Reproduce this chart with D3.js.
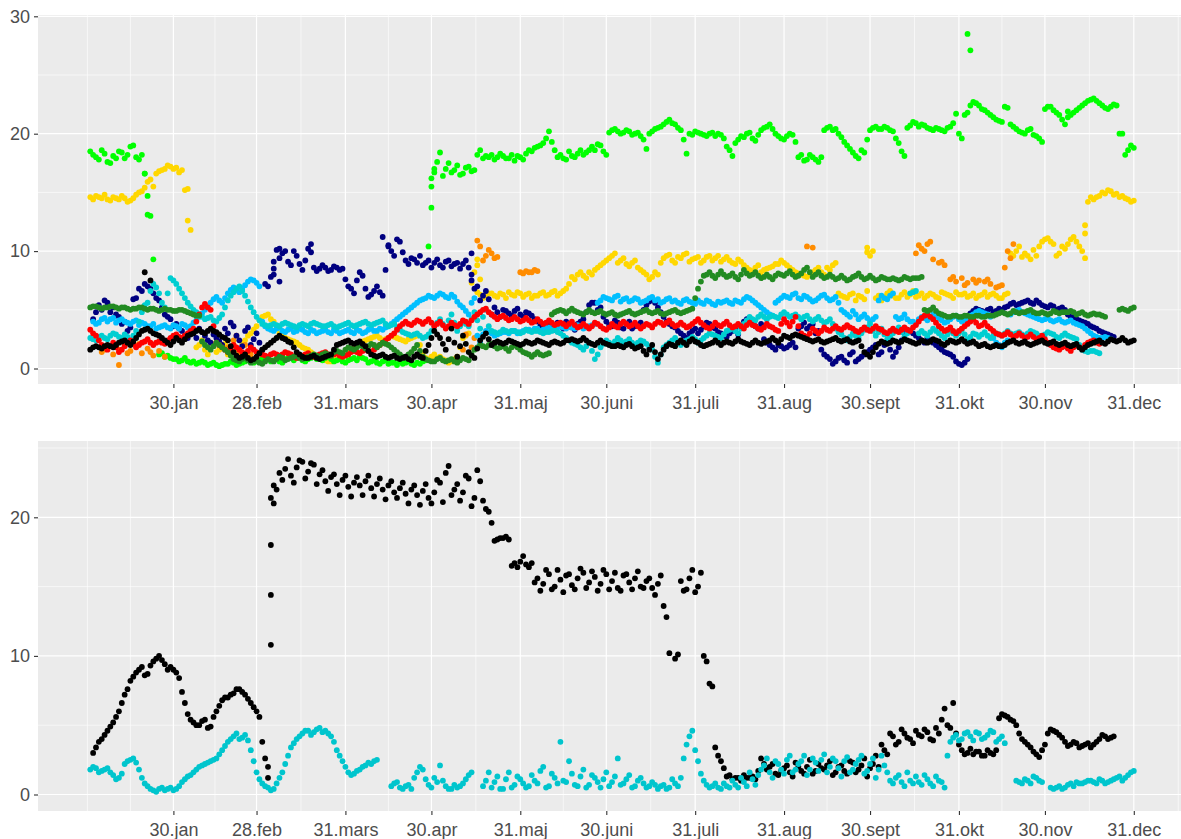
<!DOCTYPE html>
<html>
<head>
<meta charset="utf-8">
<script src="https://cdn.jsdelivr.net/npm/d3@7"></script>
<style>
  body { margin: 0; background: #ffffff; }
  svg { display: block; }
</style>
</head>
<body>
<svg id="chart" width="1181" height="839"></svg>
<script>
// ---- calendar -------------------------------------------------------------
const YEAR = 2019;
// "A" arrays: one reading on every odd day (1, 3, 5 ...);
// "B" arrays: one reading on every even day (2, 4, 6 ...)
const STEP_DAYS = 2;

const tickLabels = ["30.jan", "28.feb", "31.mars", "30.apr", "31.maj", "30.juni",
                    "31.juli", "31.aug", "30.sept", "31.okt", "30.nov", "31.dec"];
const tickDays = [30, 59, 90, 120, 151, 181, 212, 243, 273, 304, 334, 365];

// ---- upper panel ------------------------------------------------------------
const limeA = [
  18.5, 18.0, 18.6, 17.6, 18.1, 18.5, 17.9, 18.9, 18.0, 18.2,
  13.1, 9.3, 1.2, 1.0, 0.9, 0.8, 0.7, 0.6, 0.6, 0.5,
  0.5, 0.4, 0.3, 0.3, 0.4, 0.5, 0.4, 0.6, 0.7, 0.6,
  0.8, 0.9, 0.7, 0.6, 0.8, 1.0, 0.9, 0.7, 0.8, 1.0,
  1.1, 0.9, 0.8, 0.7, 0.6, 0.7, 0.9, 1.0, 0.8, 0.6,
  0.5, 0.6, 0.4, 0.5, 0.6, 0.5, 0.4, 0.5, 0.6, 10.4,
  17.0, 18.4, 17.0, 16.7, 17.3, 16.6, 17.2, 16.9, 18.6, 18.1,
  18.2, 18.0, 18.1, 17.9, 17.7, 18.0, 18.3, 18.5, 18.9, 19.2,
  20.2, 18.6, 18.2, 17.8, 18.1, 18.3, 18.2, 18.6, 18.6, 19.0,
  18.2, 20.3, 20.2, 20.1, 20.2, 20.0, 19.8, 18.7, 20.2, 20.5,
  20.8, 21.2, 20.8, 20.3, 18.3, 19.9, 20.1, 19.9, 20.0, 19.8,
  19.9, 18.9, 18.1, 19.5, 19.7, 20.1, 19.4, 20.3, 20.6, 20.4,
  19.8, 19.5, 20.0, 19.3, 18.2, 17.8, 18.0, 17.6, 20.3, 20.6,
  20.4, 19.7, 19.0, 18.4, 17.9, 18.4, 20.3, 20.6, 20.4, 20.5,
  20.2, 19.2, 18.1, 20.7, 20.9, 20.8, 20.5, 20.3, 20.4, 20.2,
  20.6, 21.7, 19.6, 21.8, 22.7, 22.4, 22.0, 21.6, 21.2, 21.0,
  22.2, 20.6, 20.2, 20.0, 20.4, 19.8, 19.3, 22.3, 22.0, 21.6,
  20.8, 21.6, 22.0, 22.4, 22.8, 23.0, 22.6, 22.2, 22.3, 22.4,
  20.0, 18.6, 18.8
];
const limeB = [
  18.2, 17.8, 18.3, 17.5, 17.9, 18.4, 18.2, 19.0, 17.8, 16.6,
  13.0, null, 1.3, 1.1, 0.8, 0.6, 0.9, 0.5, 0.4, 0.6,
  0.3, 0.5, 0.2, 0.4, 0.6, 0.3, 0.5, 0.8, 0.5, 0.7,
  1.0, 0.6, 0.8, 0.5, 0.9, 0.7, 1.1, 0.6, 0.9, 0.8,
  0.7, 1.0, 0.6, 0.8, 0.5, 0.8, 0.7, 0.9, 0.5, 0.7,
  0.4, 0.7, 0.5, 0.3, 0.4, 0.6, 0.3, 0.4, 0.7, 16.2,
  17.6, 16.4, 17.5, 16.9, 16.5, 17.1, 16.8, 18.2, 17.9, 18.0,
  17.8, 18.3, 17.9, 18.2, 18.1, 17.8, 18.6, 18.8, 19.0, 19.6,
  19.3, 18.0, 17.9, 18.5, 18.0, 18.6, 18.4, 18.9, 19.1, 18.5,
  20.1, 20.4, 20.0, 20.3, 19.9, 20.1, 19.5, 20.0, 20.4, 20.6,
  21.0, 20.9, 20.5, 19.5, 20.0, 20.2, 20.0, 19.8, 20.1, 20.0,
  19.6, 18.6, 19.2, 19.8, 20.0, 19.6, 19.9, 20.5, 20.8, 20.0,
  19.6, 19.8, 19.9, 18.0, 17.7, 18.2, 17.8, 18.0, 20.5, 20.3,
  20.0, 19.3, 18.7, 18.1, 18.6, 19.5, 20.5, 20.4, 20.6, 20.3,
  19.6, 18.5, 20.5, 21.0, 20.6, 20.7, 20.4, 20.5, 20.3, 20.5,
  20.9, 20.0, 21.6, 22.4, 22.6, 22.1, 21.8, 21.4, 21.1, 22.3,
  20.8, 20.4, 20.1, 20.3, 19.9, 19.6, 22.1, 22.3, 21.8, 21.2,
  21.4, 21.8, 22.2, 22.6, 22.9, 22.8, 22.4, 22.1, 22.5, 20.0,
  18.2, 19.0
];
const limeExtra = [[20, 16.6], [21, 14.7], [120, 13.7], [120, 15.5], [121, 16.7], [307, 28.5], [308, 27.1], [342, 21.9]];

const goldA = [
  14.6, 14.7, 14.5, 14.4, 14.6, 14.4, 14.5, 14.3, 14.8, 15.1,
  15.9, 15.5, 16.8, 17.0, 17.2, 17.1, 16.9, 15.3, null, 2.0,
  1.6, 2.2, 1.4, 1.8, 1.2, 2.0, 1.5, 2.4, 3.0, 3.6,
  4.4, 4.6, 4.0, 3.0, 2.6, 2.4, 2.2, 1.8, 1.6, 1.2,
  1.0, 0.7, 0.6, 0.8, 1.0, 1.3, 1.8, 2.2, 2.4, 2.6,
  2.8, 2.4, 2.6, 2.7, 2.5, 2.3, 2.6, 2.8, 1.3, 0.8,
  1.2, 1.0, 0.7, 0.6, 1.0, 2.6, 3.0, 8.2, 6.3, 6.2,
  6.4, 6.1, 6.3, 6.5, 6.2, 6.4, 6.3, 6.0, 6.2, 6.5,
  6.3, 6.6, 6.4, 6.8, 7.8, 8.0, 7.9, 8.2, 8.4, 8.8,
  9.2, 9.6, 9.0, 9.4, 8.7, 9.2, 8.4, 8.0, 7.8, 8.0,
  9.4, 9.7, 9.0, 9.4, 9.8, 9.3, 9.5, 9.2, 9.6, 9.4,
  9.1, 9.5, 9.0, 9.3, 8.8, 8.4, 8.6, 8.2, 8.5, 8.7,
  8.9, 9.0, 8.6, 8.2, 8.0, 7.8, 8.2, 8.6, 8.0, 8.4,
  9.0, 6.2, 6.0, 6.4, 6.2, 5.9, 9.6, 6.0, 5.8, 6.4,
  6.2, 6.0, 6.5, 6.3, 6.1, 6.4, 6.2, 6.3, 6.0, 6.4,
  6.2, 6.5, 6.3, 6.1, 6.4, 6.2, 6.5, 6.3, 6.2, 6.0,
  6.4, 9.6, 10.4, 9.8, 9.3, 9.6, 10.8, 11.1, 10.6, 9.8,
  10.2, 11.0, 10.8, 10.0, 14.2, 14.4, 14.7, 14.9, 15.1, 14.9,
  14.7, 14.4, 14.3
];
const goldB = [
  14.4, 14.6, 14.8, 14.3, 14.5, 14.7, 14.2, 14.5, 15.0, 15.4,
  16.1, 16.6, 16.9, 17.3, 17.0, 16.7, 15.2, null, 1.8, 2.4,
  1.2, 1.9, 1.6, 2.1, 1.4, 1.7, 2.2, 2.8, 3.3, 4.1,
  4.5, 4.2, 3.4, 2.8, 2.5, 2.3, 2.0, 1.7, 1.4, 1.1,
  0.8, 0.6, 0.7, 0.9, 1.1, 1.5, 2.0, 2.3, 2.5, 2.7,
  2.6, 2.5, 2.8, 2.6, 2.4, 2.5, 2.7, 2.0, 0.9, 1.0,
  0.9, 0.8, 0.5, 0.8, 1.8, 2.8, 7.3, 6.5, 6.0, 6.4,
  6.2, 6.4, 6.0, 6.3, 6.5, 6.1, 6.4, 6.2, 6.4, 6.2,
  6.5, 6.2, 6.6, 7.2, 7.6, 8.2, 7.7, 8.0, 8.6, 9.0,
  9.4, 9.8, 9.2, 8.9, 9.0, 8.6, 8.2, 7.6, 8.2, 9.0,
  9.6, 9.2, 9.5, 9.7, 9.1, 9.4, 9.0, 9.5, 9.2, 9.6,
  9.3, 9.2, 8.9, 9.1, 8.6, 8.3, 8.8, 8.4, 8.6, 8.9,
  9.2, 8.8, 8.4, 8.1, 7.9, 8.0, 8.4, 8.2, 8.6, 8.8,
  6.4, 6.1, 6.3, 5.8, 6.1, 6.6, 10.0, 6.2, 6.1, 6.6,
  6.0, 6.3, 6.1, 6.6, 6.2, 6.0, 6.4, 6.1, 6.5, 6.3,
  6.0, 6.3, 6.4, 6.2, 6.0, 6.3, 6.1, 6.4, 6.0, 6.3,
  9.8, 10.0, 9.5, 9.6, 10.1, 10.4, 11.0, 10.8, 9.6, 10.4,
  10.6, 11.2, 10.4, 9.4, 14.6, 14.6, 15.0, 15.2, 14.8, 14.6,
  14.5, 14.2
];
const goldExtra = [[35, 12.6], [36, 11.8], [136, 9.3], [136, 8.8], [137, 7.6], [272, 10.3], [272, 9.9], [348, 12.2], [348, 11.5]];

// sparse series: [day of year, value]
const orange = [
  [5, 1.4], [7, 1.8], [9, 1.2], [11, 1.6], [11, 0.3], [13, 2.0], [15, 1.5], [17, 1.9], [19, 1.3],
  [21, 1.7], [23, 1.1], [25, 1.5], [27, 1.0], [6, 1.6], [10, 1.9], [14, 1.3], [18, 2.1], [22, 1.4],
  [49, 1.8], [51, 2.4], [53, 1.4], [55, 2.0], [57, 1.2], [52, 2.8], [54, 1.1],
  [131, 1.6], [133, 3.8], [135, 2.6], [132, 2.9], [134, 1.8],
  [136, 10.9], [137, 10.4], [138, 9.2], [139, 9.6], [141, 9.8], [143, 9.5], [140, 10.1], [142, 9.4],
  [151, 8.2], [153, 8.3], [155, 8.2], [157, 8.3], [152, 8.1], [154, 8.2], [156, 8.4],
  [251, 10.4], [253, 10.3],
  [289, 9.8], [291, 10.2], [293, 10.6], [295, 9.3], [297, 9.0], [299, 8.8], [301, 7.6], [303, 7.4],
  [305, 7.7], [307, 7.3], [309, 7.6], [311, 7.5], [313, 7.4], [315, 7.2], [317, 6.9], [319, 7.1],
  [290, 10.5], [292, 10.0], [294, 10.8], [298, 9.1], [302, 7.8], [306, 7.1], [310, 7.3], [314, 7.6], [318, 7.0],
  [321, 10.0], [323, 10.6], [320, 8.6], [322, 9.4]
];

const navyA = [
  null, 4.8, 5.0, 5.6, 5.2, 4.4, 4.0, 3.5, 6.0, 6.6,
  7.0, 6.4, 5.8, 4.6, 4.2, 3.8, 3.2, 2.6, 3.0, 3.4,
  2.8, 2.2, 2.6, 2.0, 3.0, 3.6, 2.4, 3.2, 2.0, 3.0,
  1.6, 7.0, 8.5, 9.4, 10.0, 8.8, 9.6, 8.4, 10.2, 8.6,
  8.5, 8.6, 8.4, 8.6, 8.5, 7.0, 6.4, 8.2, 6.8, 6.3,
  7.0, 6.2, 10.4, 9.6, 10.8, 9.2, 9.4, 9.0, 8.8, 9.2,
  9.0, 8.8, 9.1, 8.7, 9.0, 8.9, 8.6, 6.8, 5.8, 6.6,
  4.6, 4.8, 5.0, 4.7, 4.9, 4.6, 4.8, 4.5, 4.0, 3.4,
  3.8, 3.3, 3.6, 4.0, 3.5, 3.8, 4.2, 5.4, 5.6, 5.2,
  4.0, 3.6, 3.9, 3.4, 4.0, 3.6, 3.9, 5.4, 5.9, 5.2,
  4.4, 3.8, 3.5, 3.0, 2.6, 3.2, 3.0, 3.6, 3.8, 3.4,
  3.0, 2.7, 3.2, 2.9, 4.0, 4.3, 3.6, 3.8, 2.2, 1.8,
  2.0, 1.7, 2.0, 1.8, 3.6, 3.4, 3.8, 3.2, 1.2, 0.8,
  0.6, 1.0, 0.5, 1.4, 0.8, 1.2, 1.6, 2.0, 1.4, 2.2,
  1.0, 1.8, 3.0, 3.2, 2.8, 2.4, 2.6, 2.2, 1.8, 1.4,
  1.2, 0.6, 0.3, 0.8, 4.9, 5.0, 4.8, 5.1, 4.9, 5.0,
  5.3, 5.6, 5.5, 5.7, 5.6, 5.8, 5.4, 5.2, 5.3, 5.1,
  5.0, 4.4, 4.2, 4.0, 3.8, 3.5, 3.2, 3.0, 2.8, null,
  null, null, null
];
const navyB = [
  4.2, 5.4, 5.8, 4.8, 4.6, 3.8, 3.2, 5.9, 6.8, 7.2,
  6.8, 6.0, 5.2, 4.4, 3.6, 3.4, 2.8, 3.3, 2.6, 3.1,
  2.4, 2.9, 2.3, 3.4, 3.9, 2.8, 1.9, 3.5, 2.5, 2.2,
  7.2, 7.8, 10.1, 9.8, 9.1, 10.0, 8.9, 9.2, 9.9, 8.3,
  8.8, 8.3, 8.7, 8.4, 7.6, 6.8, 7.5, 7.9, 6.1, 6.6,
  6.5, 8.4, 10.0, 11.0, 9.9, 8.9, 9.3, 9.6, 9.0, 8.6,
  9.3, 8.6, 9.2, 8.9, 8.5, 9.2, 8.0, 7.0, 6.2, 5.9,
  5.2, 4.4, 4.9, 4.5, 5.1, 4.4, 4.7, 4.2, 3.6, 3.8,
  3.4, 3.9, 3.4, 3.8, 3.3, 4.0, 4.8, 5.6, 5.0, 4.4,
  3.7, 4.1, 3.5, 3.8, 3.4, 3.7, 5.0, 5.7, 5.6, 4.8,
  4.0, 3.6, 3.2, 2.8, 3.0, 3.4, 3.3, 3.9, 3.5, 3.1,
  2.8, 3.0, 3.3, 3.6, 4.2, 3.9, 3.4, 2.5, 2.0, 1.6,
  1.9, 1.8, 2.2, 3.4, 3.9, 3.6, 3.0, 1.6, 1.0, 0.4,
  0.9, 0.7, 1.2, 0.6, 1.0, 1.4, 1.8, 1.2, 2.0, 1.6,
  1.4, 2.4, 3.3, 3.0, 2.6, 2.2, 2.4, 2.0, 1.6, 1.3,
  1.0, 0.4, 0.5, 4.7, 5.1, 4.9, 5.0, 4.8, 5.1, 5.2,
  5.5, 5.4, 5.6, 5.8, 5.5, 5.6, 5.3, 5.4, 5.0, 5.2,
  4.6, 4.3, 4.1, 3.9, 3.6, 3.4, 3.1, 2.9, 2.7, null,
  null, null
];
const navyExtra = [[65, 8.0], [65, 9.1], [67, 10.2], [67, 7.4], [78, 10.6], [103, 11.2], [105, 10.5], [134, 9.8], [134, 7.5]];

const deepSkyA = [
  null, 3.8, 4.2, 4.0, 4.3, 4.1, 4.0, 3.8, 4.1, 3.9,
  3.6, 3.8, 3.5, 3.7, 3.4, 3.6, 3.8, 3.5, 3.9, 4.4,
  5.0, 5.6, 6.1, 5.6, 6.4, 6.9, 6.5, 7.1, 7.6, 7.3,
  4.0, 3.4, 3.2, 3.5, 3.1, 3.4, 3.2, 3.3, 3.0, 3.2,
  3.1, 3.3, 3.0, 3.2, 3.1, 3.3, 3.0, 3.2, 3.1, 3.4,
  3.2, 3.3, 3.6, 4.0, 4.4, 4.8, 5.2, 5.6, 5.9, 6.2,
  6.0, 6.4, 6.1, 6.3, 5.7, 5.2, 4.6, 6.0, 2.2, 3.2,
  3.0, 2.9, 3.1, 3.0, 3.2, 3.1, 3.3, 3.2, 3.4, 3.3,
  3.5, 3.4, 3.6, 3.4, 3.5, 3.7, 3.4, 3.6, 3.8, 5.8,
  6.0, 5.8, 6.2, 5.9, 5.7, 6.0, 5.6, 5.8, 6.1, 5.9,
  5.7, 6.0, 5.8, 5.5, 5.9, 5.6, 5.8, 5.5, 5.7, 5.4,
  5.6, 5.8, 5.5, 5.7, 5.9, 6.0, 5.6, 5.2, 4.8, 4.5,
  5.8, 6.2, 6.0, 6.4, 5.9, 6.1, 5.7, 6.0, 6.3, 5.8,
  6.1, 5.0, 4.6, 4.9, 4.2, 4.6, 4.0, 4.4, 6.2, 5.9,
  6.4, 4.2, 4.6, 4.0, 3.8, 4.4, 4.1, 4.6, 4.3, 3.9,
  4.2, 4.5, 4.0, 4.3, 4.6, 4.9, 4.7, 4.4, 2.2, 1.8,
  2.4, 4.8, 5.0, 4.7, 4.5, 4.3, 4.1, 4.3, 4.0, 4.2,
  3.9, 4.1, 3.8, 3.6, 3.2, 2.8, 2.6, 2.7, 2.5, null,
  null, null, null
];
const deepSkyB = [
  4.0, 3.9, 4.3, 4.2, 3.9, 4.2, 3.9, 4.0, 3.7, 3.8,
  3.6, 3.4, 3.6, 3.5, 3.7, 3.4, 3.7, 3.6, 4.1, 4.7,
  5.3, 5.9, 5.8, 6.0, 6.7, 6.7, 6.8, 7.4, 7.5, 7.0,
  3.6, 3.3, 3.4, 3.2, 3.3, 3.1, 3.4, 3.1, 3.3, 3.0,
  3.2, 3.1, 3.3, 3.0, 3.2, 3.1, 3.3, 3.0, 3.3, 3.2,
  3.4, 3.5, 3.8, 4.2, 4.6, 5.0, 5.4, 5.8, 6.0, 6.1,
  6.2, 6.3, 6.0, 6.1, 5.4, 4.9, 5.6, 2.8, 2.9, 3.1,
  2.8, 3.0, 3.1, 3.2, 3.0, 3.2, 3.3, 3.4, 3.2, 3.5,
  3.3, 3.5, 3.5, 3.6, 3.4, 3.6, 3.5, 3.7, 5.6, 6.1,
  5.9, 6.1, 5.7, 6.0, 5.8, 5.9, 5.7, 6.0, 5.8, 5.6,
  5.9, 5.7, 5.6, 5.8, 5.7, 5.5, 5.6, 5.8, 5.5, 5.7,
  5.7, 5.6, 5.8, 5.6, 6.1, 5.8, 5.4, 5.0, 4.6, 5.6,
  6.0, 6.1, 6.3, 6.0, 6.2, 5.9, 5.8, 6.2, 6.0, 5.9,
  5.6, 4.8, 4.4, 4.6, 4.4, 4.3, 4.2, 5.8, 6.0, 6.2,
  4.4, 4.3, 4.2, 4.0, 4.2, 4.3, 4.4, 4.5, 4.1, 4.0,
  4.4, 4.2, 4.1, 4.5, 4.8, 4.8, 4.6, 2.6, 2.0, 2.2,
  4.6, 4.9, 4.8, 4.6, 4.4, 4.2, 4.2, 4.1, 4.1, 4.0,
  4.0, 3.9, 3.7, 3.4, 3.0, 2.7, 2.6, 2.6, null, null,
  null, null
];

const turquoiseA = [
  2.6, 2.4, 2.8, 2.5, 3.0, 2.7, 2.9, 2.4, 3.2, 4.8,
  5.6, 7.2, 6.4, 5.2, 7.7, 7.2, 6.4, 5.6, 5.0, 4.6,
  4.2, 4.4, 4.0, 4.6, 5.8, 6.5, 7.0, 6.2, 5.2, 4.4,
  3.8, 3.6, 3.8, 3.6, 3.9, 3.7, 3.5, 3.8, 3.6, 3.9,
  3.7, 3.6, 3.8, 3.5, 3.7, 3.9, 3.6, 3.8, 4.0, 3.7,
  3.9, 4.1, 3.6, 3.8, 3.3, 3.0, 2.8, 3.0, 2.6, 2.9,
  3.6, 4.2, 3.5, 4.6, 3.2, 4.0, 3.6, 4.8, 3.4, 5.0,
  3.2, 3.0, 3.3, 3.1, 3.2, 3.0, 3.3, 3.1, 3.2, 3.0,
  3.1, 3.3, 3.0, 2.6, 2.2, 2.0, 1.6, 2.2, 0.8, 1.8,
  2.4, 2.0, 2.6, 2.2, 2.5, 2.0, 2.4, 2.1, 1.6, 0.5,
  1.8, 2.2, 2.6, 2.0, 2.4, 2.7, 2.2, 2.6, 3.0, 2.8,
  2.6, 3.2, 3.4, 3.0, 3.8, 4.4, 4.1, 4.6, 4.2, 4.5,
  4.3, 4.8, 4.4, 4.6, 4.2, 4.5, 4.0, 4.4, 3.9, 4.2,
  3.4, 2.9, 2.4, 3.0, 2.6, 3.3, 3.8, 2.8, 3.4, 2.5,
  3.0, 3.5, 2.7, 6.4, 6.6, 3.2, 2.8, 3.4, 3.0, 2.6,
  3.2, 2.8, 3.3, 2.5, 3.0, 2.7, 3.1, 2.6, 3.0, 2.8,
  3.2, 2.9, 3.1, 2.8, 3.2, 3.0, 2.7, 3.1, 2.9, 2.6,
  3.0, 2.7, 2.5, 1.6, 1.4, 1.5, 1.3, null, null, null,
  null, null, null
];
const turquoiseB = [
  2.5, 2.7, 2.6, 2.8, 2.9, 2.6, 2.7, 2.8, 4.0, 5.4,
  6.6, 6.9, 5.6, 6.4, 7.5, 6.8, 6.0, 5.3, 4.8, 4.4,
  4.3, 4.1, 4.3, 5.2, 6.2, 6.8, 6.6, 5.7, 4.8, 4.1,
  3.7, 3.7, 3.7, 3.8, 3.8, 3.6, 3.7, 3.7, 3.8, 3.8,
  3.6, 3.7, 3.6, 3.6, 3.8, 3.7, 3.7, 3.9, 3.8, 3.8,
  4.0, 3.8, 3.7, 3.5, 3.1, 2.9, 2.9, 2.8, 2.7, 3.2,
  3.9, 3.8, 4.1, 3.9, 3.6, 3.8, 4.2, 4.1, 4.4, 3.6,
  3.1, 3.1, 3.2, 3.2, 3.1, 3.1, 3.2, 3.2, 3.1, 3.1,
  3.2, 3.1, 2.8, 2.4, 2.1, 1.8, 1.9, 1.5, 1.2, 2.1,
  2.2, 2.3, 2.4, 2.3, 2.2, 2.2, 2.3, 1.8, 1.0, 1.2,
  2.0, 2.4, 2.3, 2.2, 2.5, 2.5, 2.4, 2.8, 2.9, 2.7,
  2.9, 3.3, 3.2, 3.4, 4.1, 4.2, 4.4, 4.4, 4.4, 4.4,
  4.6, 4.6, 4.5, 4.4, 4.4, 4.2, 4.2, 4.1, 4.0, 3.8,
  3.1, 2.6, 2.7, 2.8, 3.0, 3.5, 3.2, 3.1, 2.9, 2.7,
  3.2, 3.1, 3.0, 6.5, 3.0, 3.0, 3.1, 3.2, 2.8, 2.9,
  3.0, 3.0, 2.9, 2.7, 2.9, 2.9, 2.8, 2.8, 2.9, 3.0,
  3.0, 3.0, 2.9, 3.0, 3.1, 2.8, 2.9, 3.0, 2.7, 2.8,
  2.8, 2.6, 2.0, 1.5, 1.5, 1.4, null, null, null, null,
  null, null
];

const forestA = [
  5.2, 5.3, 5.1, 5.2, 5.3, 5.1, 5.2, 5.0, 5.1, 5.2,
  5.0, 5.1, 4.9, 5.1, 5.0, 4.9, 5.0, 4.8, 4.6, 4.5,
  2.0, 1.6, 2.2, 1.8, 1.4, 0.8, 0.6, 0.9, 0.5, 0.7,
  0.4, 0.8, 0.6, 1.0, 0.7, 0.9, 1.1, 0.8, 1.0, 1.2,
  1.0, 1.3, 1.1, 1.5, 1.3, 1.8, 1.6, 2.0, 1.7, 2.1,
  1.8, 2.2, 2.0, 1.6, 1.2, 0.9, 1.4, 2.0, 1.0, 0.7,
  0.6, 0.9, 0.6, 0.8, 0.5, 0.9, 0.7, 1.6, 2.0, 1.8,
  2.1, 1.7, 1.9, 1.5, 2.0, 1.6, 1.3, 1.0, 1.4, 1.1,
  1.3, 4.8, 5.0, 4.7, 5.1, 4.8, 4.6, 5.0, 4.7, 4.9,
  4.6, 4.8, 4.5, 4.7, 4.9, 4.6, 4.8, 5.0, 4.7, 4.9,
  4.6, 4.8, 5.0, 4.7, 4.9, 5.1, 6.8, 7.9, 8.2, 7.7,
  8.3, 7.8, 8.1, 7.6, 8.4, 7.9, 8.2, 7.7, 8.0, 7.6,
  8.1, 7.9, 8.3, 7.8, 8.1, 8.6, 7.8, 8.2, 7.7, 8.0,
  7.6, 7.9, 7.5, 7.8, 8.1, 7.6, 7.9, 7.5, 7.8, 7.6,
  7.7, 7.5, 7.8, 7.6, 7.7, 7.8, 4.9, 5.2, 4.7, 4.5,
  4.4, 4.5, 4.4, 4.5, 4.4, 4.5, 4.4, 4.5, 4.6, 4.8,
  4.6, 4.9, 4.7, 4.8, 5.0, 4.7, 4.8, 4.6, 4.9, 4.7,
  4.8, 4.9, 4.6, 4.8, 4.5, 4.7, 4.6, 4.4, null, null,
  5.1, 4.9, 5.2
];
const forestB = [
  5.3, 5.2, 5.2, 5.3, 5.2, 5.2, 5.1, 5.1, 5.2, 5.1,
  5.1, 5.0, 5.0, 5.0, 4.9, 5.0, 4.9, 4.7, 4.5, 2.3,
  1.8, 1.9, 2.0, 1.6, 1.1, 0.7, 0.8, 0.7, 0.6, 0.5,
  0.6, 0.7, 0.8, 0.9, 0.8, 1.0, 0.9, 0.9, 1.1, 1.1,
  1.2, 1.2, 1.4, 1.4, 1.6, 1.7, 1.8, 1.9, 1.9, 2.0,
  2.0, 2.1, 1.8, 1.4, 1.0, 1.2, 1.7, 1.5, 0.8, 0.6,
  0.8, 0.7, 0.7, 0.6, 0.7, 0.8, 1.2, 1.8, 1.9, 2.0,
  1.9, 1.8, 1.7, 1.8, 1.8, 1.4, 1.2, 1.2, 1.2, 1.2,
  4.6, 4.9, 4.9, 4.9, 4.9, 4.7, 4.8, 4.8, 4.8, 4.7,
  4.7, 4.6, 4.6, 4.8, 4.7, 4.7, 4.9, 4.8, 4.8, 4.7,
  4.7, 4.9, 4.8, 4.8, 5.0, 6.0, 7.4, 8.0, 7.9, 8.0,
  8.0, 7.9, 7.8, 8.0, 8.1, 8.0, 7.9, 7.8, 7.8, 7.9,
  8.0, 8.1, 8.0, 7.9, 8.4, 8.2, 8.0, 7.9, 7.8, 7.8,
  7.7, 7.7, 7.6, 7.9, 7.8, 7.7, 7.7, 7.6, 7.7, 7.6,
  7.6, 7.6, 7.7, 7.7, 7.7, 5.0, 5.0, 4.9, 4.6, 4.4,
  4.5, 4.4, 4.5, 4.4, 4.5, 4.4, 4.5, 4.5, 4.7, 4.7,
  4.7, 4.8, 4.8, 4.9, 4.8, 4.7, 4.7, 4.7, 4.8, 4.8,
  4.8, 4.8, 4.7, 4.6, 4.6, 4.6, 4.5, null, null, 5.0,
  5.0, 5.1
];

const redA = [
  3.3, 2.8, 2.0, 1.6, 2.2, 1.4, 1.9, 2.4, 1.8, 2.2,
  2.5, 2.0, 2.3, 2.1, 2.6, 2.9, 2.6, 3.0, 3.4, 4.6,
  5.5, 5.0, 2.2, 1.8, 1.4, 2.0, 1.6, 1.2, 1.8, 1.4,
  1.2, 1.0, 1.3, 1.1, 1.4, 1.2, 0.9, 1.1, 1.3, 1.0,
  1.2, 1.4, 1.1, 1.3, 1.0, 1.2, 1.5, 1.3, 1.6, 1.4,
  1.8, 2.2, 2.6, 3.0, 3.6, 4.0, 3.7, 4.1, 3.8, 4.2,
  3.6, 4.0, 3.4, 3.9, 3.6, 4.1, 3.8, 4.4, 4.8, 5.1,
  4.6, 4.2, 4.5, 4.1, 4.4, 4.0, 4.3, 3.9, 4.2, 3.8,
  4.1, 3.7, 3.9, 3.6, 4.0, 3.5, 3.8, 3.4, 3.9, 3.6,
  3.3, 3.8, 3.5, 4.0, 3.6, 3.9, 3.4, 3.8, 3.5, 4.0,
  3.7, 4.1, 3.6, 3.9, 3.5, 3.8, 4.2, 3.7, 3.4, 3.9,
  3.6, 4.0, 3.5, 3.8, 3.4, 3.9, 3.6, 3.3, 3.8, 3.5,
  3.2, 4.2, 3.6, 4.4, 3.0, 2.7, 3.4, 3.0, 3.5, 3.2,
  3.6, 3.3, 3.7, 3.4, 3.1, 3.5, 3.2, 3.6, 3.3, 3.0,
  3.4, 3.1, 3.5, 3.2, 3.7, 4.3, 4.6, 4.2, 3.6, 3.2,
  3.5, 3.0, 3.4, 3.8, 4.2, 3.6, 3.9, 3.4, 3.0, 2.8,
  3.1, 2.7, 3.0, 2.6, 2.9, 2.5, 2.8, 2.2, 1.8, 1.6,
  1.9, 1.5, 2.0, 1.7, 2.2, 2.4, 2.1, null, null, null,
  null, null, null
];
const redB = [
  3.0, 2.4, 1.8, 1.9, 1.8, 1.6, 2.2, 2.1, 2.0, 2.3,
  2.2, 2.2, 2.2, 2.4, 2.8, 2.7, 2.8, 3.2, 4.0, 5.2,
  5.2, 3.6, 2.0, 1.6, 1.7, 1.8, 1.4, 1.5, 1.6, 1.3,
  1.1, 1.2, 1.2, 1.2, 1.3, 1.0, 1.0, 1.2, 1.1, 1.1,
  1.3, 1.2, 1.2, 1.1, 1.1, 1.4, 1.4, 1.5, 1.5, 1.6,
  2.0, 2.4, 2.8, 3.3, 3.8, 3.8, 3.9, 4.0, 4.0, 3.9,
  3.8, 3.7, 3.6, 3.7, 3.8, 4.0, 4.1, 4.6, 5.0, 4.8,
  4.4, 4.4, 4.3, 4.2, 4.2, 4.1, 4.1, 4.0, 4.0, 3.9,
  3.9, 3.8, 3.8, 3.8, 3.7, 3.6, 3.6, 3.6, 3.8, 3.4,
  3.5, 3.6, 3.8, 3.8, 3.7, 3.6, 3.6, 3.7, 3.8, 3.9,
  3.9, 3.8, 3.7, 3.7, 3.6, 4.0, 3.9, 3.5, 3.6, 3.7,
  3.8, 3.7, 3.6, 3.6, 3.7, 3.7, 3.4, 3.5, 3.6, 3.3,
  3.8, 3.9, 4.0, 3.6, 2.8, 3.0, 3.2, 3.2, 3.3, 3.4,
  3.4, 3.5, 3.5, 3.2, 3.3, 3.3, 3.4, 3.4, 3.1, 3.2,
  3.2, 3.3, 3.3, 3.5, 4.0, 4.5, 4.4, 3.9, 3.4, 3.3,
  3.2, 3.2, 3.6, 4.0, 3.9, 3.7, 3.6, 3.2, 2.9, 2.9,
  2.9, 2.8, 2.8, 2.7, 2.7, 2.6, 2.5, 2.0, 1.7, 1.8,
  1.7, 1.8, 1.8, 2.0, 2.3, 2.2, null, null, null, null,
  null, null
];

const blackA = [
  1.6, 1.9, 1.7, 2.0, 1.8, 2.2, 2.4, 2.0, 2.6, 3.2,
  3.4, 3.0, 2.8, 2.4, 2.0, 2.6, 2.2, 2.8, 3.0, 3.3,
  3.0, 3.4, 3.1, 2.7, 2.4, 1.4, 0.9, 1.2, 0.7, 1.0,
  1.6, 2.0, 2.4, 2.8, 2.5, 2.2, 1.4, 1.0, 0.9, 1.1,
  0.8, 1.0, 1.2, 2.0, 2.2, 2.4, 2.1, 2.3, 1.9, 1.2,
  1.0, 1.2, 0.9, 1.1, 0.8, 1.0, 0.7, 1.2, 0.9, 2.0,
  3.2, 2.6, 1.6, 3.4, 1.0, 2.8, 1.4, 0.9, 2.4, 3.0,
  2.0, 2.3, 2.1, 2.4, 2.2, 2.0, 2.3, 2.1, 2.4, 2.2,
  2.0, 2.3, 2.1, 2.4, 2.5, 2.3, 2.6, 2.2, 2.0, 2.4,
  2.1, 1.9, 2.0, 1.8, 2.1, 1.7, 1.9, 1.2, 2.0, 0.8,
  1.6, 2.1, 1.9, 2.4, 2.0, 2.5, 2.2, 1.9, 2.1, 2.4,
  2.0, 2.3, 2.1, 2.5, 2.2, 2.0, 2.4, 2.1, 2.3, 2.6,
  2.2, 2.8, 2.6, 2.9, 2.7, 2.5, 2.3, 2.5, 2.2, 2.4,
  2.6, 2.3, 2.5, 2.2, 2.4, 1.4, 1.0, 1.8, 2.3, 2.1,
  2.4, 2.2, 2.5, 2.3, 2.1, 2.4, 2.2, 2.5, 2.3, 2.0,
  2.4, 2.2, 2.5, 2.1, 2.3, 1.9, 2.1, 1.8, 2.0, 1.9,
  2.2, 2.4, 2.1, 2.3, 2.0, 2.2, 2.4, 2.1, 2.3, 2.0,
  2.2, 1.9, 2.1, 1.6, 2.0, 2.2, 2.4, 2.1, 2.5, 2.3,
  2.6, 2.2, 2.4
];
const blackB = [
  1.8, 1.8, 1.9, 1.9, 2.0, 2.3, 2.2, 2.3, 2.9, 3.3,
  3.2, 2.9, 2.6, 2.2, 2.3, 2.4, 2.5, 2.9, 3.2, 3.1,
  3.2, 3.2, 2.9, 2.6, 1.9, 1.1, 1.0, 0.9, 0.8, 1.3,
  1.8, 2.2, 2.6, 2.6, 2.3, 1.8, 1.2, 0.9, 1.0, 0.9,
  0.9, 1.1, 1.6, 2.1, 2.3, 2.2, 2.2, 2.1, 1.5, 1.1,
  1.1, 1.0, 1.0, 0.9, 0.9, 0.8, 1.0, 1.0, 1.5, 2.6,
  2.9, 2.1, 2.5, 2.2, 1.9, 2.1, 1.1, 1.7, 2.7, 2.5,
  2.2, 2.2, 2.2, 2.3, 2.1, 2.1, 2.2, 2.2, 2.3, 2.1,
  2.2, 2.2, 2.2, 2.4, 2.4, 2.4, 2.4, 2.1, 2.2, 2.2,
  2.0, 1.9, 1.9, 2.0, 1.9, 1.8, 1.5, 1.6, 1.4, 1.2,
  1.9, 2.0, 2.2, 2.2, 2.3, 2.3, 2.0, 2.0, 2.2, 2.2,
  2.2, 2.2, 2.3, 2.3, 2.1, 2.2, 2.2, 2.2, 2.4, 2.4,
  2.5, 2.7, 2.8, 2.8, 2.6, 2.4, 2.4, 2.3, 2.3, 2.5,
  2.4, 2.4, 2.3, 2.3, 1.9, 1.2, 1.4, 2.1, 2.2, 2.2,
  2.3, 2.3, 2.4, 2.2, 2.2, 2.3, 2.3, 2.4, 2.1, 2.2,
  2.3, 2.3, 2.3, 2.2, 2.1, 2.0, 1.9, 1.9, 1.9, 2.0,
  2.3, 2.2, 2.2, 2.1, 2.1, 2.3, 2.2, 2.2, 2.1, 2.1,
  2.0, 2.0, 1.8, 1.8, 2.1, 2.3, 2.2, 2.3, 2.4, 2.4,
  2.4, 2.3
];
const blackExtra = [[20, 8.2], [22, 7.5]];

// ---- lower panel ------------------------------------------------------------
const lowerBlackA = [
  null, 3.4, 4.0, 4.6, 5.2, 6.0, 7.2, 8.2, 8.8, 9.2,
  8.7, 9.6, 10.0, 9.4, 9.2, 8.8, 7.4, 5.8, 5.2, 5.0,
  5.4, 4.9, 6.0, 6.8, 7.0, 7.3, 7.6, 7.2, 6.6, 6.0,
  3.8, 1.2, 22.3, 23.2, 23.5, 23.0, 23.6, 24.0, 23.3, 23.8,
  23.1, 22.6, 22.9, 22.4, 22.7, 22.2, 22.5, 22.3, 22.6, 22.1,
  22.4, 22.0, 22.3, 21.8, 22.1, 21.7, 22.0, 21.6, 21.9, 21.4,
  21.8, 22.5, 23.2, 21.6, 22.4, 21.8, 22.8, 21.4, 22.6, 20.6,
  19.6, 18.4, 18.5, 18.4, 16.7, 16.8, 16.6, 16.7, 15.6, 15.2,
  15.9, 15.0, 15.5, 15.8, 15.1, 15.6, 16.0, 15.3, 15.7, 15.2,
  15.9, 15.4, 14.9, 15.8, 15.3, 15.6, 15.0, 15.4, 14.9, 15.2,
  13.6, 10.2, 9.8, 15.4, 14.8, 16.2, 15.0, 10.0, 8.0, 3.4,
  2.4, 1.3, 1.1, 1.2, 1.4, 1.2, 1.1, 2.6, 1.8, 2.2,
  1.4, 1.9, 1.6, 2.3, 1.7, 2.0, 1.5, 2.2, 1.8, 2.4,
  1.6, 2.1, 1.5, 2.3, 1.8, 2.6, 1.9, 2.8, 3.6, 2.9,
  4.2, 3.8, 4.4, 4.0, 4.6, 4.2, 4.5, 3.9, 4.4, 6.2,
  4.8, 4.4, 3.2, 3.0, 2.9, 3.1, 2.8, 3.0, 3.2, 5.8,
  5.6, 5.3, 4.4, 3.8, 3.4, 2.9, 3.2, 4.4, 4.6, 4.3,
  3.8, 3.6, 3.7, 3.5, 3.7, 3.6, 4.0, 4.2, 4.1, null,
  null, null, null
];
const lowerBlackB = [
  3.0, 3.8, 4.3, 4.9, 5.6, 6.6, 7.6, 8.5, 9.0, 8.6,
  9.3, 9.8, 9.7, 9.0, 9.0, 8.4, 6.6, 5.4, 5.0, 5.3,
  4.8, 5.6, 6.4, 7.0, 7.2, 7.6, 7.4, 6.9, 6.3, 5.6,
  2.6, 21.4, 22.0, 22.7, 24.2, 22.5, 24.1, 22.8, 23.9, 22.4,
  23.4, 21.9, 23.1, 21.6, 23.0, 21.5, 22.9, 21.6, 23.0, 21.5,
  22.8, 21.3, 22.6, 21.4, 22.5, 21.0, 22.3, 20.9, 22.4, 21.0,
  22.7, 21.1, 23.7, 22.0, 21.2, 23.0, 20.8, 23.4, 21.2, 20.4,
  18.3, 18.5, 18.6, 16.5, 16.4, 17.2, 16.4, 15.3, 14.7, 16.2,
  14.8, 16.2, 14.6, 15.9, 14.8, 16.3, 14.9, 16.1, 14.7, 16.2,
  14.8, 16.0, 14.7, 15.9, 14.8, 16.1, 14.9, 15.6, 14.4, 15.8,
  12.8, null, 10.1, 14.7, 15.6, 14.6, 16.0, 9.6, 7.8, 2.8,
  1.9, 1.4, 1.2, 1.0, 1.2, 1.3, 1.7, 2.2, 2.0, 1.5,
  1.7, 2.1, 1.3, 2.0, 1.5, 2.5, 1.7, 1.9, 2.1, 1.4,
  2.0, 1.7, 2.4, 1.6, 2.1, 1.3, 2.2, 2.0, 3.2, 4.4,
  3.6, 4.7, 4.1, 3.7, 4.3, 4.7, 4.0, 4.8, 5.4, 5.0,
  6.6, 3.6, 2.9, 3.3, 3.1, 2.8, 3.2, 2.9, 5.5, 5.7,
  5.4, 5.0, 4.0, 3.6, 3.1, 2.7, 3.6, 4.7, 4.5, 4.1,
  3.5, 3.8, 3.4, 3.6, 3.4, 3.8, 4.3, 4.0, 4.2, null,
  null, null
];
const lowerBlackExtra = [[63, 2.0], [64, 10.8], [64, 14.4], [64, 18.0], [65, 21.0]];

const lowerCyanA = [
  1.8, 1.9, 1.7, 1.9, 1.4, 1.2, 2.2, 2.5, 2.3, 1.2,
  0.6, 0.3, 0.4, 0.3, 0.5, 0.4, 0.9, 1.3, 1.6, 2.0,
  2.2, 2.4, 2.6, 3.2, 3.8, 4.2, 4.0, 4.3, 3.2, 1.6,
  0.8, 0.5, 0.4, 1.2, 2.2, 3.4, 4.0, 4.4, 4.6, 4.5,
  4.8, 4.6, 4.2, 3.2, 2.4, 1.6, 1.5, 1.8, 2.1, 2.2,
  2.5, null, null, 0.8, 0.5, 0.6, 0.4, 1.6, 1.8, 0.7,
  1.2, 2.1, 0.6, 0.4, 0.5, 0.8, 1.4, null, null, 1.0,
  0.5, 1.3, 0.4, 1.6, 0.7, 1.1, 0.5, 1.4, 0.8, 2.0,
  0.6, 1.2, 3.8, 0.9, 1.5, 0.6, 1.8, 0.7, 1.2, 0.5,
  1.6, 0.9, 2.6, 0.8, 1.4, 0.6, 1.2, 0.5, 0.9, 0.4,
  0.7, 0.5, 0.8, 1.2, 3.6, 4.6, 2.4, 1.0, 0.5, 0.8,
  0.4, 0.6, 1.0, 0.5, 0.9, 1.6, 0.7, 1.8, 2.6, 1.2,
  2.2, 1.5, 2.8, 1.8, 2.4, 1.4, 2.6, 1.7, 2.9, 2.0,
  2.4, 1.3, 2.7, 1.8, 2.5, 1.5, 2.2, 1.2, 2.8, 1.6,
  0.8, 1.4, 0.6, 1.0, 1.3, 0.7, 1.1, 0.6, 1.0, 0.5,
  3.8, 4.3, 4.0, 4.5, 3.9, 4.4, 4.1, 4.6, 3.8, 4.2,
  null, null, 0.9, 1.1, 0.8, 1.2, 0.9, null, 0.4, 0.6,
  0.5, 0.8, 0.9, 0.8, 1.0, 0.9, 1.1, 0.8, 1.0, 1.2,
  1.0, 1.4, 1.7
];
const lowerCyanB = [
  2.0, 1.6, 1.8, 1.6, 1.1, 1.5, 2.4, 2.6, 1.8, 0.8,
  0.4, 0.2, 0.5, 0.4, 0.3, 0.6, 1.1, 1.4, 1.8, 2.1,
  2.3, 2.5, 2.9, 3.5, 4.0, 4.4, 4.1, 3.9, 2.4, 1.1,
  0.6, 0.3, 0.8, 1.6, 2.8, 3.7, 4.2, 4.6, 4.3, 4.7,
  4.5, 4.4, 3.8, 2.8, 2.0, 1.4, 1.7, 2.0, 2.3, 2.4,
  null, null, 0.6, 0.9, 0.4, 0.7, 1.2, 2.0, 1.1, 0.5,
  0.9, 1.0, 0.4, 0.7, 0.6, 1.1, 1.6, null, 0.6, 1.6,
  0.9, 0.4, 1.1, 0.5, 1.3, 0.8, 0.6, 1.0, 1.7, 0.5,
  1.5, 0.8, 1.0, 2.4, 0.7, 1.3, 0.5, 1.4, 0.9, 1.1,
  0.6, 1.3, 0.7, 1.1, 0.5, 1.0, 0.8, 0.6, 0.7, 0.6,
  0.4, 1.1, 0.6, 2.6, 4.2, 3.2, 1.5, 0.7, 0.6, 0.5,
  0.8, 0.5, 0.7, 1.2, 0.6, 1.1, 1.4, 2.1, 1.6, 2.4,
  1.8, 2.5, 1.6, 2.2, 2.8, 1.8, 2.3, 2.5, 1.6, 2.6,
  1.9, 2.4, 1.6, 2.2, 2.8, 1.7, 2.6, 1.8, 2.1, 1.0,
  1.2, 0.9, 1.6, 0.8, 0.9, 1.4, 0.8, 1.3, 0.9, 2.8,
  4.1, 3.9, 4.4, 4.2, 4.5, 4.0, 4.3, 4.5, 4.0, 3.7,
  null, 1.0, 0.8, 1.0, 1.3, 1.0, null, 0.5, 0.5, 0.4,
  0.7, 0.6, 0.8, 0.9, 1.0, 0.8, 1.0, 0.9, 1.1, 1.3,
  1.2, 1.6
];

// ---- drawing ----------------------------------------------------------------
const day = d => new Date(Date.UTC(YEAR, 0, d));

// odd-day readings, even-day readings and single extra readings merged into one point list
function toPoints(oddDays, evenDays, extra) {
  const pts = [];
  oddDays.forEach((v, i) => { if (v != null) pts.push({ date: day(1 + STEP_DAYS * i), value: v }); });
  (evenDays || []).forEach((v, i) => { if (v != null) pts.push({ date: day(2 + STEP_DAYS * i), value: v }); });
  (extra || []).forEach(([d, v]) => pts.push({ date: day(d), value: v }));
  return pts;
}
const fromPairs = pairs => pairs.map(([d, v]) => ({ date: day(d), value: v }));

const upperSeries = [
  { color: "#FFD700", points: toPoints(goldA, goldB, goldExtra) },
  { color: "#00FF00", points: toPoints(limeA, limeB, limeExtra) },
  { color: "#FF8C00", points: fromPairs(orange) },
  { color: "#000080", points: toPoints(navyA, navyB, navyExtra) },
  { color: "#00BFFF", points: toPoints(deepSkyA, deepSkyB) },
  { color: "#00CED1", points: toPoints(turquoiseA, turquoiseB) },
  { color: "#FF0000", points: toPoints(redA, redB) },
  { color: "#228B22", points: toPoints(forestA, forestB) },
  { color: "#000000", points: toPoints(blackA, blackB, blackExtra) }
];
const lowerSeries = [
  { color: "#000000", points: toPoints(lowerBlackA, lowerBlackB, lowerBlackExtra) },
  { color: "#00C5CD", points: toPoints(lowerCyanA, lowerCyanB) }
];

const svg = d3.select("#chart");
const FONT = "'Liberation Sans', Arial, Helvetica, sans-serif";
const PANEL_L = 38, PANEL_R = 1186;
const POINT_R = 2.9;

const x = d3.scaleUtc()
  .domain([day(tickDays[0]), day(tickDays[tickDays.length - 1])])
  .range([173.4, 1133.8]);

const tickDates = tickDays.map(day);
// minor grid: the breaks extended one step outside, plus midpoints between neighbours
const extendedBreaks = [day(tickDays[0] - 30), ...tickDates, day(tickDays[tickDays.length - 1] + 31)];
const minorDates = [extendedBreaks[0]];
for (let i = 0; i < extendedBreaks.length - 1; i++) {
  minorDates.push(new Date((+extendedBreaks[i] + +extendedBreaks[i + 1]) / 2));
}

function drawPanel(cfg) {
  const g = svg.append("g");
  const y = d3.scaleLinear().domain(cfg.yDomain).range(cfg.yRange);

  g.append("rect")
    .attr("x", PANEL_L).attr("y", cfg.top)
    .attr("width", PANEL_R - PANEL_L).attr("height", cfg.bottom - cfg.top)
    .attr("fill", "#EBEBEB");

  const grid = g.append("g").attr("stroke", "#FFFFFF");
  grid.selectAll("line.hmin").data(cfg.yMinor).join("line").attr("class", "hmin")
    .attr("x1", PANEL_L).attr("x2", PANEL_R).attr("y1", d => y(d)).attr("y2", d => y(d))
    .attr("stroke-width", 0.6);
  grid.selectAll("line.vmin").data(minorDates).join("line").attr("class", "vmin")
    .attr("y1", cfg.top).attr("y2", cfg.bottom).attr("x1", d => x(d)).attr("x2", d => x(d))
    .attr("stroke-width", 0.6);
  grid.selectAll("line.hmaj").data(cfg.yTicks).join("line").attr("class", "hmaj")
    .attr("x1", PANEL_L).attr("x2", PANEL_R).attr("y1", d => y(d)).attr("y2", d => y(d))
    .attr("stroke-width", 1.2);
  grid.selectAll("line.vmaj").data(tickDates).join("line").attr("class", "vmaj")
    .attr("y1", cfg.top).attr("y2", cfg.bottom).attr("x1", d => x(d)).attr("x2", d => x(d))
    .attr("stroke-width", 1.2);

  cfg.series.forEach(s => {
    g.append("g").attr("fill", s.color)
      .selectAll("circle").data(s.points).join("circle")
      .attr("cx", d => x(d.date)).attr("cy", d => y(d.value)).attr("r", POINT_R);
  });

  const xAxis = d3.axisBottom(x).tickValues(tickDates)
    .tickFormat((d, i) => tickLabels[i]).tickSize(4).tickPadding(8);
  const gx = g.append("g").attr("transform", `translate(0,${cfg.bottom})`).call(xAxis);
  const yAxis = d3.axisLeft(y).tickValues(cfg.yTicks).tickSize(4).tickPadding(4);
  const gy = g.append("g").attr("transform", `translate(${PANEL_L},0)`).call(yAxis);

  [gx, gy].forEach(a => {
    a.select(".domain").remove();
    a.selectAll(".tick line").attr("stroke", "#333333").attr("stroke-width", 1.1);
    a.selectAll(".tick text").attr("fill", "#4D4D4D")
      .style("font-family", FONT).style("font-size", "18px");
  });
}

drawPanel({
  top: 15, bottom: 384,
  yDomain: [0, 30], yRange: [368.5, 16.3],
  yTicks: [0, 10, 20, 30], yMinor: [5, 15, 25],
  series: upperSeries
});
drawPanel({
  top: 441, bottom: 811,
  yDomain: [0, 20], yRange: [794.5, 517.3],
  yTicks: [0, 10, 20], yMinor: [5, 15, 25],
  series: lowerSeries
});
</script>
</body>
</html>
